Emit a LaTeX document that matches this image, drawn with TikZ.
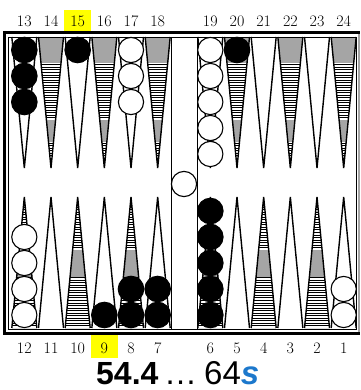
\documentclass[tikz,border=0pt]{standalone}
\usepackage{fontspec}
\usepackage{xcolor}
\newfontfamily\scorefont{Liberation Sans}
\definecolor{boardGray}{RGB}{165, 165, 165}
\definecolor{markYellow}{RGB}{255, 255, 0}
\definecolor{cubeBlue}{RGB}{28, 120, 204}

% hatched point: x, base, tip, two gray bands (from, to)
\newcommand{\hatchpoint}[7]{%
  \begin{scope}
    \clip (#1-12.5,#2) -- (#1,#3) -- (#1+12.5,#2) -- cycle;
    \foreach \s in {0,...,52} \draw[stripe] (#1-13,{#2+(#3-#2)*\s/52}) -- ++(26,0);
    \fill[boardGray] (#1-13,#4) rectangle (#1+13,#5);
    \fill[boardGray] (#1-13,#6) rectangle (#1+13,#7);
  \end{scope}}

\begin{document}
\begin{tikzpicture}[x=1pt, y=-1pt,
    pointline/.style={line width=1.4pt, line join=miter},
    stripe/.style={line width=0.55pt},
    blackchecker/.style={fill=black, draw=black, line width=1pt},
    whitechecker/.style={fill=white, draw=black, line width=1.1pt},
    pointlabel/.style={font=\fontsize{16}{16}\selectfont, inner sep=1pt}]
    \useasboundingbox (0,0) rectangle (360,390);

    % marked points
    \fill[markYellow] (64,10) rectangle (91,33);
    \fill[markYellow] (91,332) rectangle (118,358);

    % points and their numbers
    \foreach \c in {0,...,11} {
        \pgfmathsetmacro{\cx}{\c<6 ? 24.33+26.67*\c : 210.33+26.67*(\c-6)}
        \pgfmathtruncatemacro{\top}{13+\c}
        \pgfmathtruncatemacro{\bot}{12-\c}
        \ifodd\c
            \hatchpoint{\cx}{37}{168}{37}{63}{120}{142}
        \else
            \hatchpoint{\cx}{328}{197}{250}{277}{0}{0}
        \fi
        \draw[pointline] (\cx-12.5,37) -- (\cx,168) -- (\cx+12.5,37);
        \draw[pointline] (\cx-12.5,328) -- (\cx,197) -- (\cx+12.5,328);
        \node[pointlabel] (t\top) at (\cx,21) {\top};
        \node[pointlabel] (b\bot) at (\cx,348) {\bot};
    }

    % board frame and bar
    \draw[line width=0.7pt] (8.5,37) rectangle (356,329);
    \draw[line width=0.9pt] (171,37) -- (171,329) (197,37) -- (197,329);
    \draw[line width=3pt] (3,32.5) -- (360,32.5);
    \draw[line width=3pt] (3,333) -- (360,333);
    \draw[line width=2.5pt] (4.5,31) -- (4.5,334.5);
    \draw[boardGray, line width=2pt] (358.5,34) -- (358.5,332);

    % checkers
    \foreach \x/\y in {24.33/50, 24.33/76, 24.33/102, 77.67/50, 237/50,
        104.33/315, 131/315, 131/289, 157.67/315, 157.67/289,
        210.33/315, 210.33/289, 210.33/263, 210.33/237, 210.33/211}
        \draw[blackchecker] (\x,\y) circle[radius=12.8pt];
    \foreach \x/\y in {131/50, 131/76, 131/102,
        210.33/50, 210.33/76, 210.33/102, 210.33/128, 210.33/154,
        24.33/315, 24.33/289, 24.33/263, 24.33/237,
        343.67/315, 343.67/289, 184/184}
        \draw[whitechecker] (\x,\y) circle[radius=12.6pt];

    % score line
    \node[anchor=base west, inner sep=0pt, text depth=0pt, font=\scorefont\bfseries\fontsize{32}{32}\selectfont] (equity) at (96,384) {54.4};
    \node[anchor=base west, inner sep=0pt, text depth=0pt, font=\scorefont\fontsize{33}{33}\selectfont] (move) at (164,384) {…\hspace{7pt}64\textcolor{cubeBlue}{\bfseries\itshape s}};
\end{tikzpicture}
\end{document}
